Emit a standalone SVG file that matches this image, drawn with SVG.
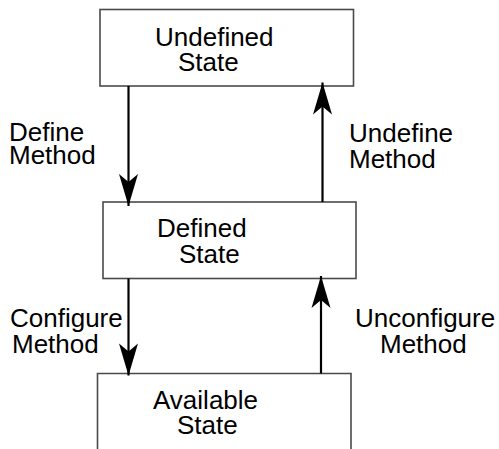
<svg xmlns="http://www.w3.org/2000/svg" width="499" height="449" viewBox="0 0 499 449">
  <style>
    .box { fill: #ffffff; stroke: #4a4a4a; stroke-width: 1.6; }
    .lbl { font-family: "Liberation Sans", Arial, Helvetica, sans-serif; font-size: 26px; fill: #000000; }
    .edge { stroke: #000000; stroke-width: 2.2; fill: none; marker-end: url(#head); }
  </style>
  <defs>
    <marker id="head" markerUnits="userSpaceOnUse" markerWidth="40" markerHeight="24" viewBox="-34 -12 40 24" refX="0" refY="0" orient="auto">
      <path d="M0,0 L-32,-9.5 L-24,0 L-32,9.5 Z" fill="#000000"/>
    </marker>
  </defs>
  <rect width="499" height="449" fill="#ffffff"/>

  <g id="undefined-state">
    <rect class="box" x="100" y="9.5" width="253.5" height="76.5"/>
    <text class="lbl" x="155" y="46">Undefined</text>
    <text class="lbl" x="178" y="71">State</text>
  </g>

  <g id="defined-state">
    <rect class="box" x="103" y="202" width="253" height="76.5"/>
    <text class="lbl" x="157" y="237">Defined</text>
    <text class="lbl" x="179" y="263">State</text>
  </g>

  <g id="available-state">
    <path class="box" d="M97.5,449 V373.5 H351 V449"/>
    <text class="lbl" x="153" y="409">Available</text>
    <text class="lbl" x="177" y="434">State</text>
  </g>

  <g id="connectors">
    <line class="edge" x1="128.5" y1="86" x2="128.5" y2="206"/>
    <line class="edge" x1="322.5" y1="202" x2="322.5" y2="82.5"/>
    <line class="edge" x1="128.5" y1="278.5" x2="128.5" y2="375.5"/>
    <line class="edge" x1="321" y1="373.5" x2="321" y2="276"/>
    <text class="lbl" x="9" y="141">Define</text>
    <text class="lbl" x="9" y="164">Method</text>
    <text class="lbl" x="349" y="142">Undefine</text>
    <text class="lbl" x="349" y="168">Method</text>
    <text class="lbl" x="10" y="327">Configure</text>
    <text class="lbl" x="12" y="353">Method</text>
    <text class="lbl" x="355" y="327">Unconfigure</text>
    <text class="lbl" x="380" y="353">Method</text>
  </g>
</svg>
